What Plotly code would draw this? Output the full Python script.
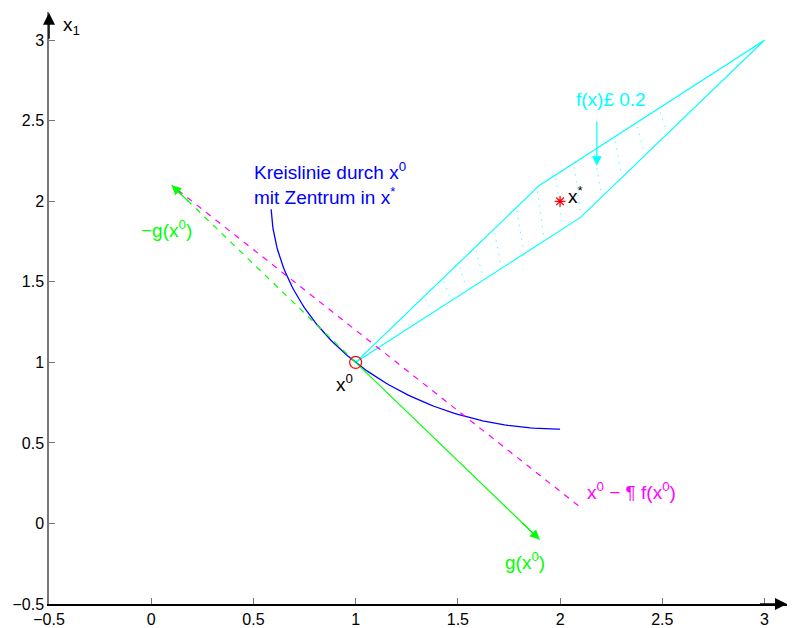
import numpy as np
import plotly.graph_objects as go

# ---- data ----
x0_pt = [1.0, 1.0]          # starting point x^0
x_star = [2.0, 2.0]         # minimiser x*
arc_deg = [182.0, 270.0]    # angular extent of the drawn circle arc

# level set f(x) <= 0.2 (outline)
level_x = [1.0, 1.9, 3.0, 2.1, 1.0]
level_y = [1.0, 2.1, 3.0, 1.9, 1.0]

# dotted hatch inside the level set
hatch_x0 = [1.23, 1.34, 1.43, 1.51, 1.59, 1.68, 1.79, 1.89, 1.98, 2.07, 2.17, 2.27, 2.38, 2.49]
hatch_y0 = [1.26, 1.39, 1.50, 1.59, 1.69, 1.80, 1.94, 2.06, 2.14, 2.21, 2.29, 2.37, 2.46, 2.55]
hatch_x1 = [1.26, 1.37, 1.46, 1.54, 1.62, 1.71, 1.82, 1.92, 2.01, 2.10, 2.20, 2.30, 2.41, 2.52]
hatch_y1 = [1.23, 1.33, 1.41, 1.47, 1.54, 1.61, 1.70, 1.78, 1.86, 1.93, 2.05, 2.17, 2.31, 2.44]

# gradient direction g(x0) and its negative
g_end = [1.9, -0.1]
neg_g_end = [0.1, 2.1]

# magenta dashed line
mag_x = [0.13, 2.1]
mag_y = [2.07, 0.1]

x_ticks = [-0.5, 0, 0.5, 1, 1.5, 2, 2.5, 3]
y_ticks = [-0.5, 0, 0.5, 1, 1.5, 2, 2.5, 3]

FONT = "Liberation Sans"
CYAN = "#00ffff"
GREEN = "#00ff00"
MAGENTA = "#ff00ff"
BLUE = "#0000ff"
RED = "#ff0000"

fig = go.Figure()

# level set outline
fig.add_trace(go.Scatter(x=level_x, y=level_y, mode="lines",
                         line=dict(color=CYAN, width=1.2), hoverinfo="skip"))
# hatch
hx, hy = [], []
for a, b, c, d in zip(hatch_x0, hatch_y0, hatch_x1, hatch_y1):
    hx += [a, c, None]
    hy += [b, d, None]
fig.add_trace(go.Scatter(x=hx, y=hy, mode="lines",
                         line=dict(color=CYAN, width=1, dash="1px,6px"), hoverinfo="skip"))

# circle arc through x0 centred at x*
r = float(np.hypot(x0_pt[0] - x_star[0], x0_pt[1] - x_star[1]))
t = np.radians(np.linspace(arc_deg[0], arc_deg[1], 120))
fig.add_trace(go.Scatter(x=x_star[0] + r * np.cos(t), y=x_star[1] + r * np.sin(t),
                         mode="lines", line=dict(color=BLUE, width=1.3), hoverinfo="skip"))

# magenta dashed
fig.add_trace(go.Scatter(x=mag_x, y=mag_y, mode="lines",
                         line=dict(color=MAGENTA, width=1.2, dash="6px,6px"), hoverinfo="skip"))

# -g dashed green
fig.add_trace(go.Scatter(x=[x0_pt[0], neg_g_end[0]], y=[x0_pt[1], neg_g_end[1]], mode="lines",
                         line=dict(color=GREEN, width=1.2, dash="6px,6px"), hoverinfo="skip"))
# g solid green
fig.add_trace(go.Scatter(x=[x0_pt[0], g_end[0]], y=[x0_pt[1], g_end[1]], mode="lines",
                         line=dict(color=GREEN, width=1.2), hoverinfo="skip"))

# markers
fig.add_trace(go.Scatter(x=[x0_pt[0]], y=[x0_pt[1]], mode="markers",
                         marker=dict(symbol="circle-open", size=12, color=RED, line=dict(width=1.2)),
                         hoverinfo="skip"))
fig.add_trace(go.Scatter(x=[x_star[0]], y=[x_star[1]], mode="markers",
                         marker=dict(symbol="asterisk-open", size=9, color=RED, line=dict(width=1.3, color=RED)),
                         hoverinfo="skip"))

ann = []
def arrowhead(xh, yh, xt, yt, color, width=1.2):
    ann.append(dict(x=xh, y=yh, ax=xt, ay=yt, xref="x", yref="y", axref="x", ayref="y",
                    showarrow=True, arrowhead=2, arrowsize=1.6, arrowwidth=width,
                    arrowcolor=color, text="", standoff=0, startstandoff=0))

# arrow heads on g and -g
arrowhead(g_end[0], g_end[1], g_end[0] - 0.09, g_end[1] + 0.11, GREEN)
arrowhead(neg_g_end[0], neg_g_end[1], neg_g_end[0] + 0.09, neg_g_end[1] - 0.11, GREEN)
# f(x) <= 0.2 arrow
arrowhead(2.18, 2.22, 2.18, 2.505, CYAN)
# axis arrows
arrowhead(3.11, -0.5, 2.97, -0.5, "black", 1.5)
arrowhead(-0.5, 3.17, -0.5, 3.0, "black", 1.5)

def txt(x, y, s, color, size=19, xanchor="center", yanchor="middle"):
    ann.append(dict(x=x, y=y, xref="x", yref="y", text=s, showarrow=False,
                    font=dict(family=FONT, size=size, color=color),
                    xanchor=xanchor, yanchor=yanchor))

txt(0.494, 2.19, "Kreislinie durch x<sup>0</sup>", BLUE, xanchor="left")
txt(0.494, 2.03, "mit Zentrum in x<sup>*</sup>", BLUE, xanchor="left")
txt(0.073, 1.83, "\u2212g(x<sup>0</sup>)", GREEN)
txt(0.944, 0.87, "x<sup>0</sup>", "black")
txt(2.03, 2.04, "x<sup>*</sup>", "black", xanchor="left")
txt(2.25, 2.63, "f(x)£ 0.2", CYAN)
txt(2.123, 0.20, "x<sup>0</sup> \u2212 ¶ f(x<sup>0</sup>)", MAGENTA, xanchor="left")
txt(1.83, -0.23, "g(x<sup>0</sup>)", GREEN)

# axis titles
txt(-0.39, 3.09, "x<sub>1</sub>", "black")
txt(3.15, -0.35, "x<sub>1</sub>", "black")

fig.update_layout(
    width=804, height=628,
    margin=dict(l=49, r=17, t=12, b=24, autoexpand=False),
    paper_bgcolor="white", plot_bgcolor="white",
    showlegend=False,
    font=dict(family=FONT, size=16, color="black"),
    annotations=ann,
    xaxis=dict(range=[-0.5, 3.11], tickvals=x_ticks, ticks="inside", ticklen=6,
               tickcolor="#777777", showline=True, linecolor="black", linewidth=1.5,
               showgrid=False, zeroline=False, tickfont=dict(family=FONT, size=16),
               automargin=False),
    yaxis=dict(range=[-0.5, 3.175], tickvals=y_ticks, ticks="inside", ticklen=6,
               tickcolor="#777777", showline=True, linecolor="#777777", linewidth=1.5,
               showgrid=False, zeroline=False, tickfont=dict(family=FONT, size=16),
               automargin=False),
)

fig.write_html("out.html")
